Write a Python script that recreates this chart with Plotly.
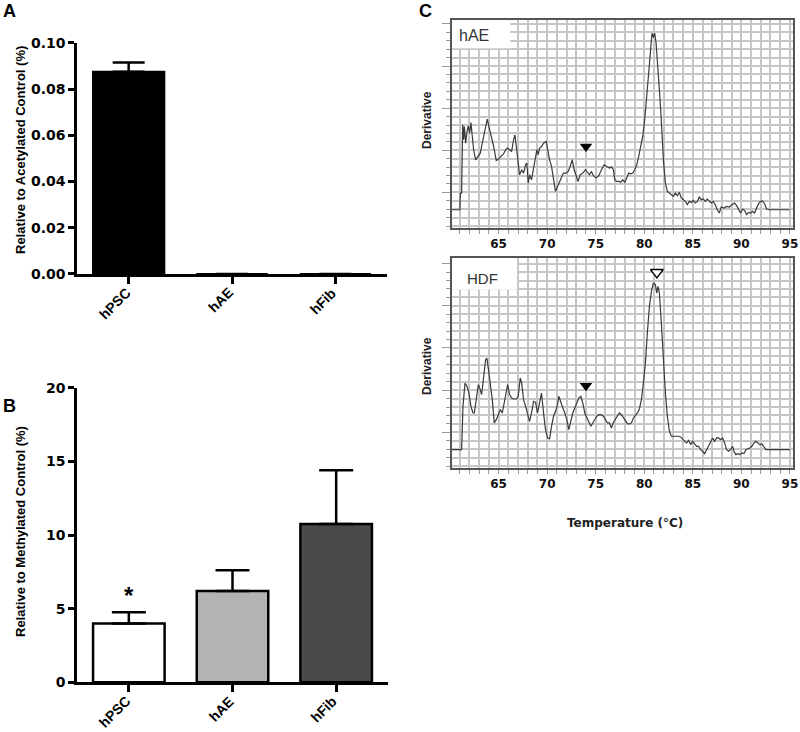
import plotly.graph_objects as go

# panel A / B: bar values (mean, upper SEM)
groups = ["hPSC", "hAE", "hFib"]
acetyl_mean = [0.0875, 0.0, 0.0]
acetyl_sem = [0.004, 0.0, 0.0]
methyl_mean = [4.0, 6.2, 10.75]
methyl_sem = [0.75, 1.4, 3.65]
methyl_colors = ["#ffffff", "#b3b3b3", "#4a4a4a"]

# panel C: melt curves, temperature (C) vs derivative (grid units)
hae_temp = [60.2, 61.0, 61.06, 61.19, 61.3, 61.4, 61.47, 61.61, 61.74, 61.88, 62.02, 62.15, 62.29, 62.43,
            62.63, 62.84, 63.11, 63.39, 63.63, 63.83, 64.04, 64.25, 64.49, 64.76, 65.0, 65.24, 65.51, 65.72,
            65.93, 66.13, 66.34, 66.54, 66.68, 66.82, 66.99, 67.16, 67.37, 67.57, 67.78, 67.91, 68.05, 68.19,
            68.39, 68.6, 68.81, 68.94, 69.08, 69.22, 69.42, 69.63, 69.9, 70.04, 70.25, 70.45, 70.66, 70.86,
            71.07, 71.27, 71.48, 71.68, 71.96, 72.17, 72.37, 72.58, 72.78, 72.99, 73.19, 73.4, 73.67, 73.95,
            74.15, 74.36, 74.56, 74.77, 75.04, 75.32, 75.59, 75.87, 76.14, 76.42, 76.62, 76.83, 76.96, 77.17,
            77.38, 77.58, 77.79, 77.99, 78.2, 78.4, 78.61, 78.82, 79.02, 79.23, 79.43, 79.64, 79.84, 80.05,
            80.26, 80.46, 80.67, 80.8, 80.94, 81.08, 81.22, 81.42, 81.63, 81.83, 81.97, 82.18, 82.38, 82.59,
            82.79, 83.0, 83.2, 83.41, 83.61, 83.82, 84.03, 84.23, 84.44, 84.64, 84.85, 85.05, 85.26, 85.47,
            85.67, 85.88, 86.08, 86.29, 86.49, 86.7, 86.91, 87.11, 87.32, 87.52, 87.73, 87.93, 88.21, 88.48,
            88.76, 89.03, 89.31, 89.51, 89.72, 89.92, 90.13, 90.33, 90.54, 90.75, 90.95, 91.16, 91.36, 91.57,
            91.77, 91.98, 92.19, 92.39, 92.6, 92.94, 95.0]
hae_deriv = [-2.06, -2.06, -0.08, -0.08, 8.02, 6.25, 7.83, 5.85, 7.23, 7.91, 7.04, 8.3, 6.64, 5.06,
             3.87, 4.27, 4.66, 6.25, 7.43, 8.7, 7.63, 6.64, 5.45, 3.79, 3.95, 4.27, 4.58, 5.06,
             5.26, 5.06, 4.86, 6.25, 6.84, 5.45, 3.48, 2.09, 2.69, 2.29, 3.28, 3.48, 1.11, 2.09,
             1.5, 3.08, 4.27, 5.06, 4.47, 5.26, 5.45, 5.85, 6.05, 5.06, 3.87, 3.08, 1.5, 0.12,
             0.71, 1.3, 1.9, 2.29, 2.29, 2.49, 3.08, 3.87, 2.69, 1.9, 1.3, 2.09, 2.29, 2.69,
             2.37, 2.09, 2.49, 1.98, 1.7, 1.98, 2.69, 3.28, 3.08, 2.89, 3.0, 2.69, 1.5, 1.3,
             1.3, 1.19, 1.5, 1.19, 1.7, 2.29, 2.21, 2.29, 2.69, 3.28, 4.27, 5.45, 6.64, 8.62,
             11.78, 14.94, 18.1, 18.89, 18.42, 18.89, 17.71, 14.94, 10.99, 7.04, 3.87, 1.11, 0.12, -0.08,
             -0.28, -0.47, -0.08, -0.4, 0.0, -0.67, -0.87, -1.07, -1.46, -1.07, -1.19, -0.95, -1.26, -1.07,
             -0.55, -0.87, -0.79, -1.07, -0.79, -0.99, -1.26, -1.07, -1.46, -2.06, -2.45, -1.74, -1.86, -1.66,
             -1.74, -1.46, -1.26, -1.58, -2.06, -2.45, -1.98, -2.13, -2.65, -2.37, -2.45, -2.25, -2.45, -1.86,
             -1.34, -1.07, -1.03, -1.34, -1.98, -2.06, -2.06]

hdf_temp = [60.2, 61.19, 61.33, 61.54, 61.74, 61.95, 62.15, 62.36, 62.5, 62.7, 62.91, 63.05, 63.25, 63.39,
            63.53, 63.66, 63.8, 63.94, 64.14, 64.35, 64.55, 64.76, 64.97, 65.17, 65.38, 65.58, 65.79, 65.93,
            66.13, 66.34, 66.54, 66.82, 67.02, 67.23, 67.37, 67.57, 67.78, 67.98, 68.19, 68.39, 68.6, 68.81,
            69.01, 69.22, 69.42, 69.63, 69.83, 70.04, 70.25, 70.45, 70.66, 70.86, 71.07, 71.2, 71.41, 71.62,
            71.82, 72.03, 72.23, 72.44, 72.64, 72.85, 73.06, 73.26, 73.47, 73.67, 73.88, 74.08, 74.29, 74.5,
            74.7, 74.91, 75.11, 75.32, 75.59, 75.8, 76.0, 76.21, 76.42, 76.62, 76.83, 77.03, 77.24, 77.44,
            77.65, 77.86, 78.06, 78.27, 78.47, 78.68, 78.88, 79.09, 79.3, 79.5, 79.71, 79.91, 80.12, 80.32,
            80.53, 80.74, 80.94, 81.15, 81.28, 81.42, 81.56, 81.76, 81.97, 82.18, 82.38, 82.59, 82.79, 83.0,
            83.27, 83.55, 83.75, 83.96, 84.16, 84.37, 84.57, 84.78, 84.99, 85.19, 85.4, 85.6, 85.81, 86.01,
            86.22, 86.43, 86.63, 86.84, 87.04, 87.25, 87.45, 87.66, 87.87, 88.07, 88.28, 88.48, 88.69, 88.89,
            89.1, 89.24, 89.44, 89.65, 89.85, 90.06, 90.27, 90.47, 90.68, 90.88, 91.09, 91.29, 91.5, 91.71,
            91.91, 92.12, 92.32, 92.53, 95.0]
hdf_deriv = [-2.06, -2.06, 3.08, 5.85, 5.45, 4.66, 3.08, 2.29, 2.29, 4.27, 5.65, 5.26, 4.47, 5.85,
             7.23, 8.62, 8.81, 7.43, 5.85, 3.87, 1.11, 1.5, 2.09, 2.69, 2.29, 3.48, 5.06, 5.65,
             4.47, 4.07, 3.95, 3.95, 4.27, 6.44, 5.85, 3.87, 3.08, 2.29, 1.3, 2.29, 3.68, 3.56,
             2.29, 3.48, 4.66, 2.29, 0.32, -0.67, -0.79, 0.71, 1.9, 2.49, 3.28, 4.27, 3.48, 2.89,
             2.29, 1.5, 0.32, 1.3, 2.29, 2.89, 3.48, 4.07, 4.27, 3.48, 2.29, 1.7, 1.11, 0.71,
             1.11, 1.5, 1.9, 2.09, 2.06, 1.9, 1.5, 1.11, 1.11, 0.51, 1.19, 1.58, 1.9, 2.29,
             2.09, 1.7, 1.3, 1.03, 0.99, 1.11, 1.7, 1.98, 2.29, 2.77, 3.87, 5.85, 8.22, 11.78,
             14.94, 16.72, 17.71, 17.51, 16.52, 17.31, 16.52, 12.96, 8.62, 4.66, 1.9, 0.12, -0.47, -0.47,
             -0.4, -0.47, -0.55, -0.87, -1.07, -1.26, -0.95, -1.46, -1.07, -1.38, -1.66, -1.66, -2.06, -2.25,
             -2.53, -2.06, -1.66, -1.07, -0.67, -1.07, -0.67, -0.67, -0.87, -0.67, -1.26, -2.06, -2.25, -2.06,
             -1.66, -2.25, -2.65, -2.53, -2.65, -2.45, -2.53, -2.06, -1.98, -1.86, -1.66, -1.26, -1.07, -1.26,
             -1.46, -1.38, -1.66, -2.06, -2.06]

# arrowhead markers on the curves
hae_mark_t = [74.0]
hae_mark_d = [5.45]
hdf_mark_t = [74.0]
hdf_mark_d = [5.53]
hdf_peak_t = [81.3]
hdf_peak_d = [18.97]

temp_ticks = [65, 70, 75, 80, 85, 90, 95]

ARIAL = "Arial, Liberation Sans, sans-serif"
WIDE = "DejaVu Sans, Arial, sans-serif"
GRID = "#c6c6c6"

fig = go.Figure()

# A
fig.add_trace(go.Bar(
    x=groups, y=acetyl_mean, width=0.69,
    marker=dict(color="black", line=dict(color="black", width=2)),
    error_y=dict(type="data", array=acetyl_sem, arrayminus=[0, 0, 0], color="black", thickness=2.5, width=16),
    xaxis="x", yaxis="y", showlegend=False,
))

# B
fig.add_trace(go.Bar(
    x=groups, y=methyl_mean, width=0.69,
    marker=dict(color=methyl_colors, line=dict(color="black", width=2.5)),
    error_y=dict(type="data", array=methyl_sem, arrayminus=[0, 0, 0], color="black", thickness=2.5, width=17),
    xaxis="x2", yaxis="y2", showlegend=False,
))

# C curves
fig.add_trace(go.Scatter(x=hae_temp, y=hae_deriv, mode="lines", line=dict(color="#3a3a3a", width=1.2),
                         xaxis="x3", yaxis="y3", showlegend=False))
fig.add_trace(go.Scatter(x=hdf_temp, y=hdf_deriv, mode="lines", line=dict(color="#3a3a3a", width=1.2),
                         xaxis="x4", yaxis="y4", showlegend=False))
fig.add_trace(go.Scatter(x=hae_mark_t, y=hae_mark_d, mode="markers",
                         marker=dict(symbol="triangle-down", size=11, color="black"),
                         xaxis="x3", yaxis="y3", showlegend=False))
fig.add_trace(go.Scatter(x=hdf_mark_t, y=hdf_mark_d, mode="markers",
                         marker=dict(symbol="triangle-down", size=11, color="black"),
                         xaxis="x4", yaxis="y4", showlegend=False))
fig.add_trace(go.Scatter(x=hdf_peak_t, y=hdf_peak_d, mode="markers",
                         marker=dict(symbol="triangle-down", size=11, color="white", line=dict(color="black", width=1.5)),
                         xaxis="x4", yaxis="y4", showlegend=False))

# category labels are drawn as rotated annotations below
bar_x = dict(type="category", range=[-0.5, 2.5], showline=True, linecolor="black", linewidth=2.5,
             ticks="outside", ticklen=7, tickwidth=2.5, tickcolor="black", showticklabels=False,
             showgrid=False, zeroline=False, automargin=False)
bar_y = dict(showline=True, linecolor="black", linewidth=2.5, ticks="outside", ticklen=6, tickwidth=2.5,
             tickcolor="black", tickfont=dict(family=WIDE, size=14, color="black", weight="bold"),
             showgrid=False, zeroline=False, automargin=False)

melt_x = dict(range=[60.2, 95.3], tickvals=temp_ticks, showgrid=True, gridcolor=GRID, gridwidth=1.6,
              minor=dict(dtick=1, tick0=0, showgrid=True, gridcolor=GRID, gridwidth=1.6,
                         ticks="outside", ticklen=4, tickcolor="#9a9a9a"),
              ticks="outside", ticklen=4, tickcolor="#9a9a9a",
              tickfont=dict(family=WIDE, size=12, color="#111", weight="bold"),
              showline=True, mirror=True, linecolor="#555", linewidth=1.5, zeroline=False, automargin=False)
melt_y = dict(tick0=0, dtick=5, showticklabels=False, ticks="outside", ticklen=8, tickcolor="#9a9a9a",
              showgrid=True, gridcolor=GRID, gridwidth=1.6,
              minor=dict(dtick=1, tick0=0, showgrid=True, gridcolor=GRID, gridwidth=1.6,
                         ticks="outside", ticklen=4, tickcolor="#9a9a9a"),
              showline=True, mirror=True, linecolor="#555", linewidth=1.5, zeroline=False, automargin=False)

fig.update_layout(
    width=800, height=732, margin=dict(l=0, r=0, t=0, b=0, autoexpand=False),
    paper_bgcolor="white", plot_bgcolor="white",
    xaxis=dict(bar_x, domain=[0.09625, 0.48375], anchor="y"),
    yaxis=dict(bar_y, domain=[0.6257, 0.9413], range=[0, 0.1], dtick=0.02, tickformat=".2f", anchor="x"),
    xaxis2=dict(bar_x, domain=[0.09625, 0.485], anchor="y2"),
    yaxis2=dict(bar_y, domain=[0.0679, 0.4703], range=[0, 20], dtick=5, anchor="x2"),
    xaxis3=dict(melt_x, domain=[0.565, 0.991], anchor="y3"),
    yaxis3=dict(melt_y, domain=[0.6885, 0.9727], range=[-4.23, 20.47], anchor="x3"),
    xaxis4=dict(melt_x, domain=[0.565, 0.991], anchor="y4"),
    yaxis4=dict(melt_y, domain=[0.3607, 0.6475], range=[-4.23, 20.67], anchor="x4"),
)

# white label boxes over the grid
fig.add_shape(type="rect", xref="x3", yref="y3", x0=60.2, x1=66.2, y0=17.1, y1=20.47,
              fillcolor="white", line=dict(width=0), layer="between")
fig.add_shape(type="rect", xref="x4", yref="y4", x0=60.2, x1=66.9, y0=16.9, y1=20.67,
              fillcolor="white", line=dict(width=0), layer="between")

ann = [
    dict(text="A", x=9 / 800, y=1 - 11 / 732, xref="paper", yref="paper", font=dict(family=ARIAL, size=18, weight="bold")),
    dict(text="B", x=9 / 800, y=1 - 406 / 732, xref="paper", yref="paper", font=dict(family=ARIAL, size=18, weight="bold")),
    dict(text="C", x=425 / 800, y=1 - 11 / 732, xref="paper", yref="paper", font=dict(family=ARIAL, size=18, weight="bold")),
    dict(text="Relative to Acetylated Control (%)", x=20 / 800, y=1 - 150 / 732, xref="paper", yref="paper",
         textangle=-90, font=dict(family=ARIAL, size=13, weight="bold")),
    dict(text="Relative to Methylated Control (%)", x=20 / 800, y=1 - 532 / 732, xref="paper", yref="paper",
         textangle=-90, font=dict(family=ARIAL, size=13, weight="bold")),
    dict(text="*", x="hPSC", y=5.9, xref="x2", yref="y2", font=dict(family=ARIAL, size=24, weight="bold")),
    dict(text="Derivative", x=427 / 800, y=1 - 120 / 732, xref="paper", yref="paper", textangle=-90,
         font=dict(family=ARIAL, size=12, weight="bold", color="#222")),
    dict(text="Derivative", x=427 / 800, y=1 - 366 / 732, xref="paper", yref="paper", textangle=-90,
         font=dict(family=ARIAL, size=12, weight="bold", color="#222")),
    dict(text="Temperature (°C)", x=625 / 800, y=1 - 523 / 732, xref="paper", yref="paper",
         font=dict(family=WIDE, size=12, weight="bold", color="#222")),
    dict(text="hAE", x=62.45, y=18.6, xref="x3", yref="y3", font=dict(family=ARIAL, size=16, color="#333")),
    dict(text="HDF", x=63.3, y=18.3, xref="x4", yref="y4", font=dict(family=ARIAL, size=15, color="#333")),
]
for a in ann:
    a["showarrow"] = False
    a["xanchor"] = "center"
    a["yanchor"] = "middle"
    a.setdefault("font", {})
    a["font"].setdefault("color", "black")
    fig.add_annotation(**a)

# slanted category labels under both bar charts
for xr, yr in (("x", "y"), ("x2", "y2")):
    for g in groups:
        fig.add_annotation(text=g, x=g, y=0, xref=xr, yref=yr, showarrow=False, textangle=-45,
                           xanchor="right", yanchor="top", xshift=7, yshift=-8,
                           font=dict(family=ARIAL, size=14, color="black", weight="bold"))

# the page body has a default 8px margin; remove it so the figure fills the window
fig.write_html("out.html", config={"displayModeBar": False},
               post_script="document.body.style.margin='0';")
